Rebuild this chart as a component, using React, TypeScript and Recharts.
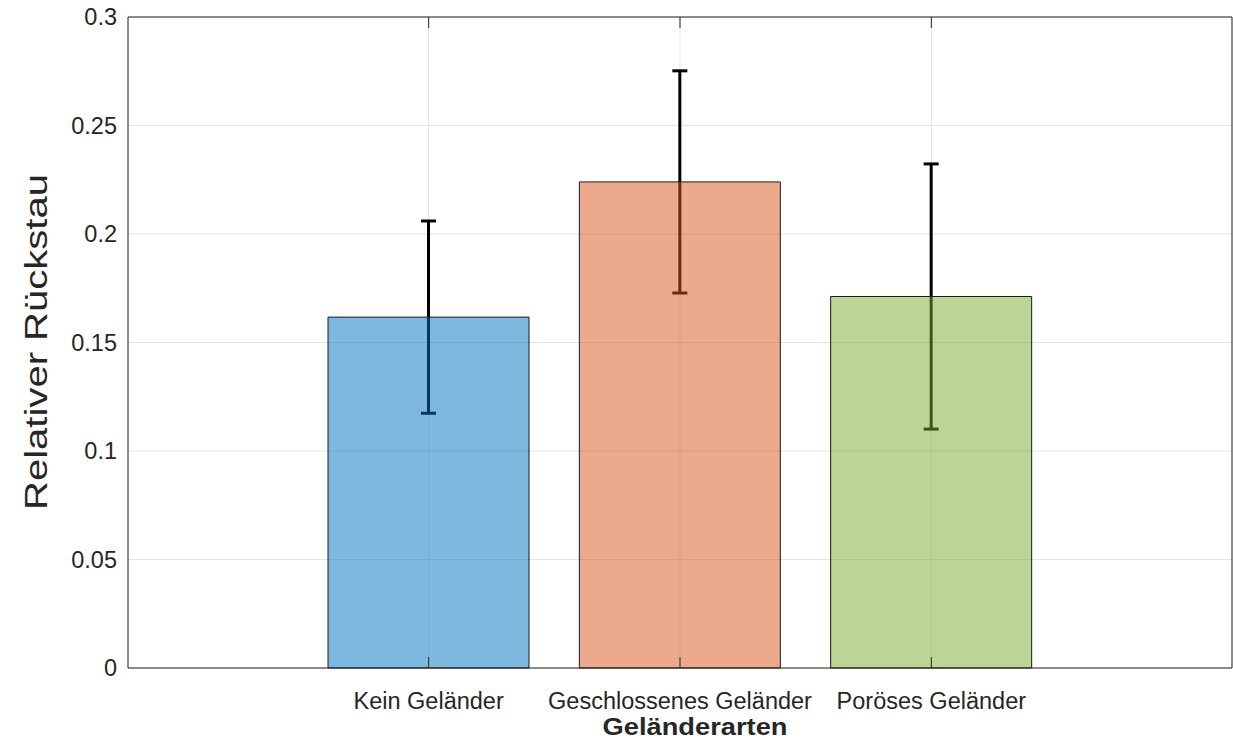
import { BarChart, Bar, XAxis, YAxis, CartesianGrid, ErrorBar, Cell } from 'recharts';

const categories = ['Kein Geländer', 'Geschlossenes Geländer', 'Poröses Geländer'];
const means = [0.1617, 0.224, 0.1712];
const errors = [0.0443, 0.0512, 0.0611];
const barColors = ['#0072BD', '#D95319', '#77AC30'];
const yTicks = [0, 0.05, 0.1, 0.15, 0.2, 0.25, 0.3];

const data = categories.map((name, i) => ({ name, value: means[i], err: errors[i] }));

const FONT = '"Liberation Sans", Arial, Helvetica, sans-serif';
const AXIS = '#262626';

const XTitle = () => (
  <text x={695} y={735} textAnchor="middle" fontFamily={FONT} fontSize={24} fontWeight="bold"
    fill={AXIS} textLength={185} lengthAdjust="spacingAndGlyphs">
    Geländerarten
  </text>
);

const YTitle = () => (
  <text x={47} y={342} transform="rotate(-90 47 342)" textAnchor="middle" fontFamily={FONT}
    fontSize={32} fill={AXIS} textLength={336} lengthAdjust="spacingAndGlyphs">
    Relativer Rückstau
  </text>
);

// inner tick marks only, no labels
const NoLabel = () => <g />;

export default function App() {
  return (
    <div style={{ position: 'absolute', left: 0, top: 0, background: '#fff' }}>
      <BarChart
        width={1233}
        height={740}
        data={data}
        margin={{ top: 17, right: 1, bottom: 0, left: 0 }}
        barSize={201}
        barGap={-201}
        style={{ fontFamily: FONT }}
      >
        <CartesianGrid stroke="#e3e3e3" strokeWidth={1} />

        <XAxis
          dataKey="name"
          type="category"
          height={72}
          padding={{ left: 175, right: 175 }}
          axisLine={{ stroke: AXIS, strokeWidth: 1 }}
          tickLine={false}
          tickSize={0}
          tickMargin={24}
          tick={{ fill: AXIS, fontSize: 23.5, fontFamily: FONT }}
          interval={0}
          label={{ content: XTitle }}
        />
        <XAxis xAxisId="xb" dataKey="name" type="category" orientation="bottom" mirror
          padding={{ left: 175, right: 175 }} tick={NoLabel} tickSize={11}
          tickLine={{ stroke: AXIS, strokeWidth: 1 }} axisLine={false} interval={0} />
        <XAxis xAxisId="xt" dataKey="name" type="category" orientation="top" mirror
          padding={{ left: 175, right: 175 }} tick={NoLabel} tickSize={11}
          tickLine={{ stroke: AXIS, strokeWidth: 1 }} axisLine={{ stroke: AXIS, strokeWidth: 1 }} interval={0} />

        <YAxis
          type="number"
          domain={[0, 0.3]}
          ticks={yTicks}
          width={128}
          axisLine={{ stroke: AXIS, strokeWidth: 1 }}
          tickLine={false}
          tickSize={0}
          tickMargin={11}
          tick={{ fill: AXIS, fontSize: 23.5, fontFamily: FONT }}
          interval={0}
          label={{ content: YTitle }}
        />
        <YAxis yAxisId="yl" type="number" orientation="left" mirror domain={[0, 0.3]} ticks={yTicks}
          tick={NoLabel} tickSize={11} tickLine={{ stroke: AXIS, strokeWidth: 1 }} axisLine={false} interval={0} />
        <YAxis yAxisId="yr" type="number" orientation="right" mirror domain={[0, 0.3]} ticks={yTicks}
          tick={NoLabel} tickSize={11} tickLine={{ stroke: AXIS, strokeWidth: 1 }}
          axisLine={{ stroke: AXIS, strokeWidth: 1 }} interval={0} />

        {/* error bars first so the translucent bars sit on top of them */}
        <Bar dataKey="value" fill="none" stroke="none" isAnimationActive={false} zIndex={290}>
          <ErrorBar dataKey="err" direction="y" width={7.5} stroke="#000" strokeWidth={3} zIndex={295} />
        </Bar>
        <Bar dataKey="value" stroke="#1a1a1a" strokeWidth={1} isAnimationActive={false} zIndex={450}>
          {data.map((d, i) => (
            <Cell key={d.name} fill={barColors[i]} fillOpacity={0.5} />
          ))}
        </Bar>
      </BarChart>
    </div>
  );
}
